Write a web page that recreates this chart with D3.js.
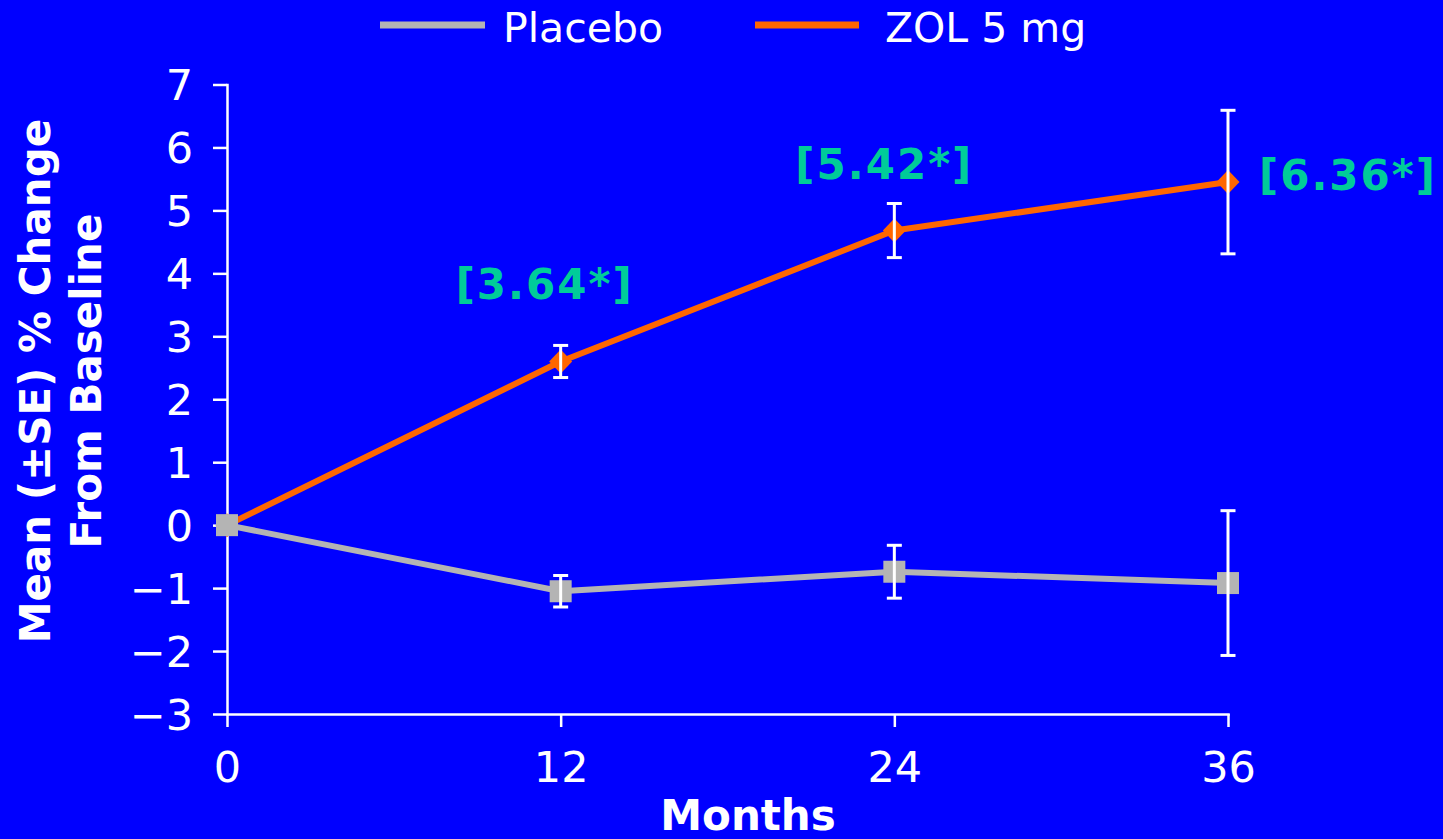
<!DOCTYPE html>
<html>
<head>
<meta charset="utf-8">
<script src="https://cdn.jsdelivr.net/npm/d3@7"></script>
<style>
  html, body { margin: 0; padding: 0; background: #0000ff; }
  svg { display: block; }
  text { font-family: "DejaVu Sans", Verdana, sans-serif; }
</style>
</head>
<body>
<svg id="chart" width="1443" height="839"></svg>
<script>
// Study visits (months since baseline)
const months = [0, 12, 24, 36];

// Mean % change from baseline and standard errors
const placeboMean = [0, -1.05, -0.74, -0.92];
const placeboSE   = [0, 0.25, 0.42, 1.15];
const zolMean     = [0, 2.60, 4.68, 5.45];
const zolSE       = [0, 0.255, 0.43, 1.14];

// Treatment difference labels at each follow-up visit
const diffMonths = [12, 24, 36];
const diffLabels = ["[3.64*]", "[5.42*]", "[6.36*]"];

// Axis ticks
const yTicks = [-3, -2, -1, 0, 1, 2, 3, 4, 5, 6, 7];
const xTicks = [0, 12, 24, 36];

const seriesNames = ["Placebo", "ZOL 5 mg"];

const COLORS = { bg: "#0000ff", placebo: "#b4b4b4", zol: "#ff6600", diff: "#00cc99", ink: "#ffffff" };

const svg = d3.select("#chart");
svg.append("rect").attr("width", 1443).attr("height", 839).attr("fill", COLORS.bg);

const x = d3.scaleLinear().domain([0, 36]).range([227, 1228]);
const y = d3.scaleLinear().domain([-3, 7]).range([714, 84.5]);

// ---- axes ----
const yAxis = d3.axisLeft(y).tickValues(yTicks).tickSize(14).tickSizeOuter(0).tickPadding(20)
  .tickFormat(d => d < 0 ? "\u2212" + Math.abs(d) : String(d));
const gy = svg.append("g").attr("transform", `translate(${x(0)},0)`).call(yAxis);
gy.selectAll("path, line").attr("stroke", COLORS.ink).attr("stroke-width", 2.5);
gy.selectAll("text").attr("fill", COLORS.ink).attr("font-size", 43).attr("dy", "0.36em");

const xAxis = d3.axisBottom(x).tickValues(xTicks).tickSize(13).tickSizeOuter(0).tickPadding(24);
const gx = svg.append("g").attr("transform", `translate(0,${y(-3)})`).call(xAxis);
gx.selectAll("path, line").attr("stroke", COLORS.ink).attr("stroke-width", 2.5);
gx.selectAll("text").attr("fill", COLORS.ink).attr("font-size", 43).attr("dy", "0.71em");
svg.selectAll(".domain").attr("stroke-linecap", "square");

// ---- axis titles ----
svg.append("text")
  .attr("x", 748).attr("y", 830)
  .attr("text-anchor", "middle")
  .attr("font-size", 42).attr("font-weight", "bold")
  .attr("fill", COLORS.ink)
  .text("Months");

const yTitle = svg.append("text")
  .attr("transform", "translate(0,381) rotate(-90)")
  .attr("text-anchor", "middle")
  .attr("font-size", 42).attr("font-weight", "bold")
  .attr("fill", COLORS.ink);
yTitle.append("tspan").attr("x", 0).attr("y", 50).text("Mean (\u00b1SE) % Change");
yTitle.append("tspan").attr("x", 0).attr("y", 101).text("From Baseline");

// ---- series ----
const line = d3.line().x(d => x(d.m)).y(d => y(d.v));
const toPts = (mean, se) => months.map((m, i) => ({ m, v: mean[i], se: se[i] }));
const zolPts = toPts(zolMean, zolSE);
const placeboPts = toPts(placeboMean, placeboSE);

// ZOL 5 mg line with diamond markers
svg.append("path").datum(zolPts)
  .attr("d", line).attr("fill", "none")
  .attr("stroke", COLORS.zol).attr("stroke-width", 6).attr("stroke-linejoin", "round");
svg.append("g").selectAll("path").data(zolPts).join("path")
  .attr("transform", d => `translate(${x(d.m)},${y(d.v)})`)
  .attr("d", "M0,-12L11.5,0L0,12L-11.5,0Z")
  .attr("fill", COLORS.zol);

// Placebo line with square markers
svg.append("path").datum(placeboPts)
  .attr("d", line).attr("fill", "none")
  .attr("stroke", COLORS.placebo).attr("stroke-width", 6).attr("stroke-linejoin", "round");
svg.append("g").selectAll("rect").data(placeboPts).join("rect")
  .attr("x", d => x(d.m) - 11).attr("y", d => y(d.v) - 11)
  .attr("width", 22).attr("height", 22)
  .attr("fill", COLORS.placebo);

// Error bars (mean ± SE) for visits after baseline
const errPts = zolPts.concat(placeboPts).filter(d => d.se > 0);
const eb = svg.append("g").attr("stroke", COLORS.ink).attr("stroke-width", 3);
errPts.forEach(d => {
  const cx = x(d.m), top = y(d.v + d.se), bot = y(d.v - d.se);
  eb.append("line").attr("x1", cx).attr("x2", cx).attr("y1", top).attr("y2", bot);
  eb.append("line").attr("x1", cx - 7.5).attr("x2", cx + 7.5).attr("y1", top).attr("y2", top);
  eb.append("line").attr("x1", cx - 7.5).attr("x2", cx + 7.5).attr("y1", bot).attr("y2", bot);
});

// Treatment difference labels, placed relative to the ZOL point at each visit
const diffPlacement = [
  { dx: -16, dy: -62, anchor: "middle" },
  { dx: -10, dy: -52, anchor: "middle" },
  { dx: 31, dy: 8, anchor: "start" }
];
diffLabels.forEach((label, i) => {
  const idx = months.indexOf(diffMonths[i]);
  const p = diffPlacement[i];
  svg.append("text")
    .attr("x", x(diffMonths[i]) + p.dx)
    .attr("y", y(zolMean[idx]) + p.dy)
    .attr("text-anchor", p.anchor)
    .attr("font-size", 42).attr("font-weight", "bold")
    .attr("letter-spacing", 2)
    .attr("fill", COLORS.diff)
    .text(label);
});

// ---- legend ----
const legend = [
  { name: seriesNames[0], color: COLORS.placebo, x1: 380, x2: 485, tx: 503 },
  { name: seriesNames[1], color: COLORS.zol, x1: 755, x2: 859, tx: 885 }
];
const lg = svg.append("g");
legend.forEach(l => {
  lg.append("line").attr("x1", l.x1).attr("x2", l.x2).attr("y1", 25).attr("y2", 25)
    .attr("stroke", l.color).attr("stroke-width", 7);
  lg.append("text").attr("x", l.tx).attr("y", 42)
    .attr("font-size", 41).attr("fill", COLORS.ink).text(l.name);
});
</script>
</body>
</html>
